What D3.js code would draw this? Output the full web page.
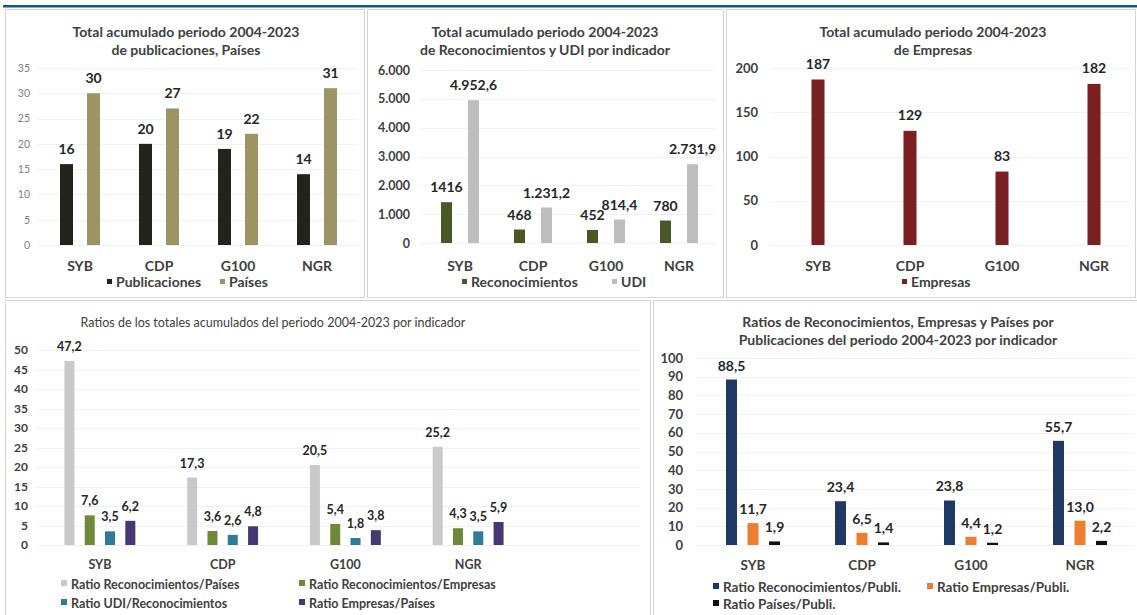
<!DOCTYPE html>
<html>
<head>
<meta charset="utf-8">
<script src="https://cdn.jsdelivr.net/npm/d3@7"></script>
<style>
  html, body { margin: 0; padding: 0; background: #ffffff; }
  svg { display: block; }
  text { font-family: Lato, "Open Sans", sans-serif; }
</style>
</head>
<body>
<svg id="chart" width="1137" height="615"></svg>
<script>
// ---- Data ----
const categories = ["SYB", "CDP", "G100", "NGR"];

const publicaciones = [16, 20, 19, 14];
const paises = [30, 27, 22, 31];

const reconocimientos = [1416, 468, 452, 780];
const udi = [4952.6, 1231.2, 814.4, 2731.9];

const empresas = [187, 129, 83, 182];

const ratioRecPaises = [47.2, 17.3, 20.5, 25.2];
const ratioRecEmpresas = [7.6, 3.6, 5.4, 4.3];
const ratioUdiRec = [3.5, 2.6, 1.8, 3.5];
const ratioEmpPaises = [6.2, 4.8, 3.8, 5.9];

const ratioRecPubli = [88.5, 23.4, 23.8, 55.7];
const ratioEmpPubli = [11.7, 6.5, 4.4, 13.0];
const ratioPaisPubli = [1.9, 1.4, 1.2, 2.2];

const ticksPubPaises = [0, 5, 10, 15, 20, 25, 30, 35];
const ticksRecUdi = [0, 1000, 2000, 3000, 4000, 5000, 6000];
const ticksEmpresas = [0, 50, 100, 150, 200];
const ticksRatios = [0, 5, 10, 15, 20, 25, 30, 35, 40, 45, 50];
const ticksRatiosPubli = [0, 10, 20, 30, 40, 50, 60, 70, 80, 90, 100];

// Spanish number formatting: "." for thousands, "," for decimals
const es = d3.formatLocale({ decimal: ",", thousands: ".", grouping: [3], currency: ["", " €"] });
const fmtInt = es.format("d");
const fmtThousands = es.format(",d");
const fmtDec1 = es.format(",.1f");

const svg = d3.select("#chart");

// Top rule
svg.append("rect").attr("x", 3).attr("y", 5).attr("width", 1134).attr("height", 2.5).attr("fill", "#15519c");

// Panel frames
const frames = [
  [5, 9, 359, 288], [367, 9, 356, 288], [726, 9, 409, 288],
  [5, 300, 645, 318], [653, 300, 486, 318]
];
frames.forEach(f => {
  svg.append("rect").attr("x", f[0] + 0.5).attr("y", f[1] + 0.5)
    .attr("width", f[2]).attr("height", f[3])
    .attr("fill", "none").attr("stroke", "#d4d4d4").attr("stroke-width", 1);
});

function drawPanel(p) {
  const g = svg.append("g");

  // Title
  p.title.lines.forEach((t, i) => {
    g.append("text")
      .attr("x", p.title.x).attr("y", p.title.y + i * p.title.lh)
      .attr("text-anchor", "middle")
      .attr("font-size", p.title.size).attr("font-weight", p.title.weight)
      .attr("fill", "#404040").text(t);
  });

  const y = d3.scaleLinear().domain(p.yDomain).range(p.yRange);
  const x0 = d3.scaleBand().domain(categories).range(p.xRange).padding(0);
  const keys = p.series.map(s => s.name);
  const n = keys.length;
  const pad = 1 - p.barWidth / p.stride;
  const x1 = d3.scaleBand().domain(keys)
    .range([-n * p.stride / 2, n * p.stride / 2])
    .paddingInner(pad).paddingOuter(pad / 2);

  // Light gridlines
  g.append("g").selectAll("line").data(p.ticks).join("line")
    .attr("x1", p.gridX[0]).attr("x2", p.gridX[1])
    .attr("y1", d => Math.round(y(d)) + 0.5).attr("y2", d => Math.round(y(d)) + 0.5)
    .attr("stroke", "#f1f1f1").attr("stroke-width", 1);

  // Y axis (labels only)
  const yAxis = d3.axisLeft(y).tickValues(p.ticks).tickFormat(p.tickFormat).tickSize(0).tickPadding(0);
  const ya = g.append("g").attr("transform", `translate(${p.axisX},0)`).call(yAxis);
  ya.select(".domain").remove();
  ya.selectAll("text")
    .attr("font-family", "Lato, 'Open Sans', sans-serif")
    .attr("font-size", p.tickSize).attr("font-weight", p.tickWeight)
    .attr("fill", p.tickColor);

  // X axis (category labels only)
  const xAxis = d3.axisBottom(x0).tickSize(0).tickPadding(0);
  const xa = g.append("g").attr("transform", `translate(0,${p.catY})`).call(xAxis);
  xa.select(".domain").remove();
  xa.selectAll("text")
    .attr("font-family", "Lato, 'Open Sans', sans-serif")
    .attr("font-size", p.catSize).attr("font-weight", "bold")
    .attr("fill", "#404040").attr("dy", 0);

  // Bars and value labels
  p.series.forEach(s => {
    const sg = g.append("g");
    const rows = categories.map((c, i) => ({ c, v: s.values[i] }));
    sg.selectAll("rect").data(rows).join("rect")
      .attr("x", d => x0(d.c) + x0.bandwidth() / 2 + x1(s.name))
      .attr("width", x1.bandwidth())
      .attr("y", d => y(d.v))
      .attr("height", d => y(0) - y(d.v))
      .attr("fill", s.color);
    sg.selectAll("text").data(rows).join("text")
      .attr("x", d => x0(d.c) + x0.bandwidth() / 2 + x1(s.name) + x1.bandwidth() / 2)
      .attr("y", d => y(d.v) - p.labelGap)
      .attr("text-anchor", "middle")
      .attr("font-size", p.labelSize).attr("font-weight", "bold")
      .attr("fill", "#262626")
      .text(d => s.fmt(d.v));
  });

  // Legend
  p.series.forEach((s, i) => {
    const pos = p.legend[i];
    g.append("rect").attr("x", pos[0]).attr("y", pos[1] - p.legendMarker + 1)
      .attr("width", p.legendMarker).attr("height", p.legendMarker).attr("fill", s.color);
    g.append("text").attr("x", pos[0] + p.legendMarker + 4).attr("y", pos[1] + 4)
      .attr("font-size", p.legendSize).attr("font-weight", p.legendWeight)
      .attr("fill", "#404040").text(s.name);
  });
}

// Panel 1: publicaciones y países
drawPanel({
  title: { lines: ["Total acumulado periodo 2004-2023", "de publicaciones, Países"], x: 186, y: 37, lh: 18, size: 14, weight: "bold" },
  yDomain: [0, 35], yRange: [245, 68], ticks: ticksPubPaises, tickFormat: fmtInt,
  axisX: 30, tickSize: 10.5, tickWeight: "normal", tickColor: "#7f7f7f",
  xRange: [40.5, 356.5], gridX: [38, 358], catY: 271, catSize: 14,
  barWidth: 13, stride: 27, labelGap: 10, labelSize: 14,
  series: [
    { name: "Publicaciones", values: publicaciones, color: "#23231b", fmt: fmtInt },
    { name: "Países", values: paises, color: "#9c9462", fmt: fmtInt }
  ],
  legend: [[107, 283], [220, 283]], legendMarker: 5, legendSize: 14, legendWeight: "bold"
});

// Panel 2: reconocimientos y UDI
drawPanel({
  title: { lines: ["Total acumulado periodo 2004-2023", "de Reconocimientos y UDI por indicador"], x: 545, y: 37, lh: 18, size: 14, weight: "bold" },
  yDomain: [0, 6000], yRange: [243, 70], ticks: ticksRecUdi, tickFormat: fmtThousands,
  axisX: 410, tickSize: 12.5, tickWeight: "bold", tickColor: "#404040",
  xRange: [423.5, 715.5], gridX: [420, 716], catY: 271, catSize: 14,
  barWidth: 11, stride: 27, labelGap: 10, labelSize: 14,
  series: [
    { name: "Reconocimientos", values: reconocimientos, color: "#4a5828", fmt: fmtInt },
    { name: "UDI", values: udi, color: "#bdbdbd", fmt: fmtDec1 }
  ],
  legend: [[462, 283], [612, 283]], legendMarker: 5, legendSize: 14, legendWeight: "bold"
});

// Panel 3: empresas
drawPanel({
  title: { lines: ["Total acumulado periodo 2004-2023", "de Empresas"], x: 933, y: 37, lh: 18, size: 14, weight: "bold" },
  yDomain: [0, 200], yRange: [245, 68], ticks: ticksEmpresas, tickFormat: fmtInt,
  axisX: 758, tickSize: 13, tickWeight: "bold", tickColor: "#404040",
  xRange: [772, 1140], gridX: [770, 1130], catY: 271, catSize: 14,
  barWidth: 13, stride: 13, labelGap: 11, labelSize: 14,
  series: [
    { name: "Empresas", values: empresas, color: "#7a1f22", fmt: fmtInt }
  ],
  legend: [[902, 283]], legendMarker: 5, legendSize: 14, legendWeight: "bold"
});

// Panel 4: ratios de los totales acumulados
drawPanel({
  title: { lines: ["Ratios de los totales acumulados del periodo 2004-2023 por indicador"], x: 273, y: 327, lh: 0, size: 12.5, weight: "normal" },
  yDomain: [0, 50], yRange: [545, 350], ticks: ticksRatios, tickFormat: fmtInt,
  axisX: 28, tickSize: 12, tickWeight: "bold", tickColor: "#404040",
  xRange: [38.5, 529.5], gridX: [36, 640], catY: 569, catSize: 12.5,
  barWidth: 10, stride: 20.3, labelGap: 10, labelSize: 12.5,
  series: [
    { name: "Ratio Reconocimientos/Países", values: ratioRecPaises, color: "#c9c9c9", fmt: fmtDec1 },
    { name: "Ratio Reconocimientos/Empresas", values: ratioRecEmpresas, color: "#6e8a38", fmt: fmtDec1 },
    { name: "Ratio UDI/Reconocimientos", values: ratioUdiRec, color: "#2e7c98", fmt: fmtDec1 },
    { name: "Ratio Empresas/Países", values: ratioEmpPaises, color: "#453873", fmt: fmtDec1 }
  ],
  legend: [[61, 585], [299, 585], [61, 604], [299, 604]], legendMarker: 6, legendSize: 12.5, legendWeight: "bold"
});

// Panel 5: ratios por publicaciones
drawPanel({
  title: { lines: ["Ratios de Reconocimientos, Empresas y Países por", "Publicaciones del periodo 2004-2023 por indicador"], x: 898, y: 327, lh: 18, size: 14, weight: "bold" },
  yDomain: [0, 100], yRange: [545, 358], ticks: ticksRatiosPubli, tickFormat: fmtInt,
  axisX: 683, tickSize: 13, tickWeight: "bold", tickColor: "#404040",
  xRange: [698.5, 1134.5], gridX: [695, 1135], catY: 570, catSize: 13.5,
  barWidth: 11, stride: 21.5, labelGap: 9, labelSize: 14,
  series: [
    { name: "Ratio Reconocimientos/Publi.", values: ratioRecPubli, color: "#1f3864", fmt: fmtDec1 },
    { name: "Ratio Empresas/Publi.", values: ratioEmpPubli, color: "#ed7d31", fmt: fmtDec1 },
    { name: "Ratio Países/Publi.", values: ratioPaisPubli, color: "#111111", fmt: fmtDec1 }
  ],
  legend: [[713, 588], [927, 588], [713, 605]], legendMarker: 6, legendSize: 13.5, legendWeight: "bold"
});
</script>
</body>
</html>
